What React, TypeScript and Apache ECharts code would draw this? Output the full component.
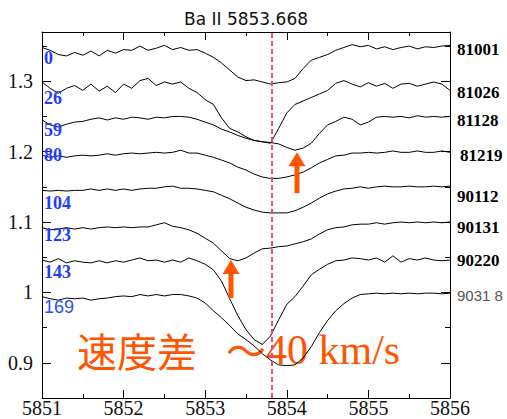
import React, { useEffect, useRef } from 'react';
import * as echarts from 'echarts';

// Wavelength grid (Å)
const WAVELENGTHS = [
  5851.0, 5851.1, 5851.2, 5851.3, 5851.4, 5851.5, 5851.6, 5851.7, 5851.8, 5851.9,
  5852.0, 5852.1, 5852.2, 5852.3, 5852.4, 5852.5, 5852.6, 5852.7, 5852.8, 5852.9,
  5853.0, 5853.1, 5853.2, 5853.3, 5853.4, 5853.5, 5853.6, 5853.7, 5853.8, 5853.9,
  5854.0, 5854.1, 5854.2, 5854.3, 5854.4, 5854.5, 5854.6, 5854.7, 5854.8, 5854.9,
  5855.0, 5855.1, 5855.2, 5855.3, 5855.4, 5855.5, 5855.6, 5855.7, 5855.8, 5855.9,
  5856.0,
];

// Normalised (offset) flux of each spectrum
const S_81001 = [
  1.348, 1.344, 1.338, 1.336, 1.341, 1.337, 1.343, 1.336, 1.344, 1.340,
  1.345, 1.344, 1.350, 1.344, 1.347, 1.351, 1.345, 1.348, 1.344, 1.345,
  1.340, 1.334, 1.326, 1.316, 1.306, 1.301, 1.302, 1.299, 1.296, 1.298,
  1.299, 1.304, 1.318, 1.330, 1.334, 1.338, 1.344, 1.348, 1.352, 1.349,
  1.351, 1.346, 1.349, 1.345, 1.348, 1.350, 1.346, 1.349, 1.348, 1.350,
  1.351,
];
const S_81026 = [
  1.299, 1.290, 1.283, 1.290, 1.294, 1.287, 1.296, 1.286, 1.293, 1.284,
  1.296, 1.290, 1.301, 1.304, 1.294, 1.299, 1.296, 1.299, 1.290, 1.284,
  1.274, 1.267, 1.248, 1.233, 1.228, 1.221, 1.216, 1.214, 1.212, 1.233,
  1.255, 1.267, 1.272, 1.277, 1.282, 1.287, 1.297, 1.301, 1.296, 1.292,
  1.298, 1.293, 1.297, 1.290, 1.296, 1.297, 1.293, 1.296, 1.299, 1.296,
  1.287,
];
const S_81128 = [
  1.245, 1.238, 1.235, 1.239, 1.242, 1.243, 1.246, 1.248, 1.245, 1.248,
  1.246, 1.249, 1.248, 1.246, 1.249, 1.248, 1.250, 1.250, 1.249, 1.246,
  1.242, 1.238, 1.232, 1.228, 1.223, 1.219, 1.216, 1.214, 1.213, 1.211,
  1.206, 1.202, 1.205, 1.212, 1.226, 1.238, 1.243, 1.249, 1.246, 1.238,
  1.242, 1.249, 1.250, 1.249, 1.250, 1.248, 1.251, 1.249, 1.250, 1.249,
  1.250,
];
const S_81219 = [
  1.195, 1.192, 1.194, 1.192, 1.194, 1.195, 1.194, 1.195, 1.197, 1.195,
  1.197, 1.198, 1.197, 1.198, 1.199, 1.198, 1.199, 1.202, 1.198, 1.198,
  1.195, 1.192, 1.188, 1.184, 1.178, 1.174, 1.168, 1.164, 1.162, 1.162,
  1.164, 1.167, 1.171, 1.177, 1.184, 1.189, 1.194, 1.195, 1.198, 1.198,
  1.199, 1.198, 1.199, 1.201, 1.199, 1.199, 1.201, 1.199, 1.199, 1.201,
  1.199,
];
const S_90112 = [
  1.145, 1.144, 1.145, 1.144, 1.145, 1.145, 1.147, 1.145, 1.147, 1.145,
  1.147, 1.145, 1.147, 1.148, 1.148, 1.150, 1.151, 1.148, 1.148, 1.147,
  1.145, 1.143, 1.138, 1.133, 1.127, 1.121, 1.117, 1.114, 1.113, 1.113,
  1.113, 1.116, 1.121, 1.127, 1.134, 1.140, 1.144, 1.147, 1.148, 1.150,
  1.148, 1.150, 1.151, 1.150, 1.150, 1.151, 1.150, 1.150, 1.151, 1.150,
  1.151,
];
const S_90131 = [
  1.092, 1.089, 1.090, 1.092, 1.090, 1.092, 1.090, 1.092, 1.093, 1.092,
  1.093, 1.092, 1.093, 1.093, 1.096, 1.099, 1.094, 1.092, 1.089, 1.084,
  1.077, 1.070, 1.059, 1.048, 1.045, 1.049, 1.056, 1.062, 1.063, 1.065,
  1.066, 1.069, 1.072, 1.076, 1.083, 1.089, 1.092, 1.093, 1.096, 1.097,
  1.097, 1.099, 1.097, 1.099, 1.100, 1.099, 1.100, 1.099, 1.100, 1.099,
  1.100,
];
const S_90220 = [
  1.046, 1.043, 1.048, 1.042, 1.045, 1.043, 1.042, 1.045, 1.042, 1.045,
  1.043, 1.046, 1.049, 1.045, 1.046, 1.043, 1.046, 1.043, 1.049, 1.045,
  1.040, 1.032, 1.016, 0.991, 0.967, 0.947, 0.933, 0.926, 0.938, 0.961,
  0.983, 0.994, 1.009, 1.025, 1.033, 1.040, 1.045, 1.046, 1.049, 1.048,
  1.046, 1.049, 1.043, 1.052, 1.043, 1.048, 1.046, 1.049, 1.046, 1.045,
  1.046,
];
const S_90318 = [
  0.994, 0.991, 0.989, 0.992, 0.991, 0.992, 0.989, 0.991, 0.992, 0.994,
  0.995, 0.994, 0.997, 0.995, 0.997, 0.995, 0.997, 0.997, 0.995, 0.992,
  0.985, 0.974, 0.964, 0.953, 0.941, 0.933, 0.924, 0.913, 0.904, 0.897,
  0.896, 0.897, 0.907, 0.923, 0.943, 0.960, 0.974, 0.984, 0.992, 0.997,
  0.998, 0.999, 0.998, 0.999, 0.998, 0.999, 0.998, 0.999, 0.999, 0.998,
  0.999,
];

const SPECTRA = [S_81001, S_81026, S_81128, S_81219, S_90112, S_90131, S_90220, S_90318];
const DATE_LABELS = ['81001', '81026', '81128', '81219', '90112', '90131', '90220', '9031 8'];
const DAY_LABELS = ['0', '26', '59', '80', '104', '123', '143', '169'];

const TITLE = 'Ba II 5853.668';
const REST_WAVELENGTH = 5853.82;
const X_MIN = 5851;
const X_MAX = 5856;
const Y_MIN = 0.85;
const Y_MAX = 1.37;
const Y_MAJOR = [0.9, 1.0, 1.1, 1.2, 1.3];
const Y_MINOR = [0.85, 0.95, 1.05, 1.15, 1.25, 1.35];

// Arrow annotations (wavelength, tip flux, tail flux)
const ARROWS = [
  { wl: 5854.125, tip: 1.199, tail: 1.141 },
  { wl: 5853.316, tip: 1.046, tail: 0.992 },
];

// layout of the text annotations (pixels)
const DAY_LABEL_Y = [58, 98, 130, 155, 203, 235, 272, 307];
const DATE_LABEL_Y = [49, 92, 120, 155, 196, 227, 260, 295];

const ORANGE = '#ff5500';
const BLUE = '#1f3cff';
const SERIF = "'Liberation Serif', 'Times New Roman', Times, serif";

export default function App() {
  const ref = useRef<HTMLDivElement>(null);
  useEffect(() => {
    if (!ref.current) return;
    const chart = echarts.init(ref.current, null, { renderer: 'svg' });

    const series: any[] = SPECTRA.map((vals, i) => ({
      type: 'line',
      name: DATE_LABELS[i],
      data: WAVELENGTHS.map((w, j) => [w, vals[j]]),
      showSymbol: false,
      symbol: 'none',
      silent: true,
      lineStyle: { color: '#000', width: 1 },
      z: 3,
    }));
    series[0].markLine = {
      silent: true,
      symbol: 'none',
      label: { show: false },
      lineStyle: { color: '#f23d9a', type: [5, 3], width: 2 },
      data: [{ xAxis: REST_WAVELENGTH }],
      z: 4,
    };

    const xBase = {
      type: 'value',
      min: X_MIN,
      max: X_MAX,
      interval: 1,
      splitLine: { show: false },
      axisLine: { show: true, onZero: false, lineStyle: { color: '#000', width: 1 } },
      axisTick: { show: true, inside: true, length: 8, lineStyle: { color: '#000' } },
      minorTick: { show: true, splitNumber: 2, length: 4, lineStyle: { color: '#000' } },
    };
    const yMajorBase = {
      type: 'value',
      min: Y_MIN,
      max: Y_MAX,
      splitLine: { show: false },
      axisLine: { show: true, onZero: false, lineStyle: { color: '#000', width: 1 } },
      axisTick: { show: true, inside: true, length: 9, customValues: Y_MAJOR, lineStyle: { color: '#000' } },
    };
    const yMinorBase = {
      type: 'value',
      min: Y_MIN,
      max: Y_MAX,
      splitLine: { show: false },
      axisLine: { show: false },
      axisLabel: { show: false },
      axisTick: { show: true, inside: true, length: 5, customValues: Y_MINOR, lineStyle: { color: '#000' } },
    };

    chart.setOption({
      animation: false,
      backgroundColor: '#fff',
      grid: { left: 42, right: 57, top: 32, bottom: 21, containLabel: false, outerBoundsMode: 'none' },
      xAxis: [
        {
          ...xBase,
          position: 'bottom',
          axisLabel: {
            show: true,
            margin: 0,
            fontSize: 20,
            lineHeight: 20,
            fontFamily: SERIF,
            color: '#111',
            alignMinLabel: 'center',
            alignMaxLabel: 'center',
            hideOverlap: false,
            formatter: (v: number) => String(v),
          },
        },
        { ...xBase, position: 'top', axisLabel: { show: false } },
      ],
      yAxis: [
        {
          ...yMajorBase,
          position: 'left',
          axisLabel: {
            show: true,
            customValues: Y_MAJOR,
            margin: 9,
            fontSize: 20,
            fontFamily: SERIF,
            color: '#111',
            formatter: (v: number) => String(v),
          },
        },
        { ...yMinorBase, position: 'left' },
        { ...yMajorBase, position: 'right', axisLabel: { show: false } },
        { ...yMinorBase, position: 'right' },
      ],
      series,
    });

    const graphics: any[] = [];
    graphics.push({
      type: 'text',
      x: 246,
      y: 19,
      style: { text: TITLE, font: "17px 'DejaVu Sans'", fill: '#111', align: 'center', verticalAlign: 'middle' },
    });
    DAY_LABELS.forEach((t, i) => {
      const last = i === DAY_LABELS.length - 1;
      graphics.push({
        type: 'text',
        x: 44,
        y: DAY_LABEL_Y[i],
        z: 10,
        style: {
          text: t,
          font: last ? "18px 'Liberation Sans', Arial, sans-serif" : 'bold 18px ' + SERIF,
          fill: last ? '#2a4dff' : BLUE,
          verticalAlign: 'middle',
        },
      });
    });
    DATE_LABELS.forEach((t, i) => {
      const last = i === DATE_LABELS.length - 1;
      graphics.push({
        type: 'text',
        x: i === 3 ? 460 : 457,
        y: DATE_LABEL_Y[i],
        style: {
          text: t,
          font: last ? "15px 'Liberation Sans', Arial, sans-serif" : 'bold 17px ' + SERIF,
          fill: last ? '#555' : '#000',
          verticalAlign: 'middle',
        },
      });
    });
    graphics.push({
      type: 'text',
      x: 77,
      y: 350,
      z: 1,
      style: { text: '速度差', font: "40px 'Noto Sans CJK JP'", fill: ORANGE, verticalAlign: 'middle' },
    });
    graphics.push({
      type: 'text',
      x: 226,
      y: 349,
      z: 1,
      style: { text: '～', font: "40px 'Noto Sans CJK JP'", fill: ORANGE, verticalAlign: 'middle' },
    });
    graphics.push({
      type: 'text',
      x: 266,
      y: 350,
      z: 1,
      style: { text: '40 km/s', font: '42px ' + SERIF, fill: ORANGE, verticalAlign: 'middle' },
    });

    ARROWS.forEach((a) => {
      const tip = chart.convertToPixel({ seriesIndex: 0 }, [a.wl, a.tip]) as number[];
      const tail = chart.convertToPixel({ seriesIndex: 0 }, [a.wl, a.tail]) as number[];
      const headH = 14;
      const halfW = 8.5;
      graphics.push({
        type: 'rect',
        z: 20,
        shape: { x: tip[0] - 2.5, y: tip[1] + headH - 1, width: 5, height: tail[1] - tip[1] - headH + 1 },
        style: { fill: ORANGE },
      });
      graphics.push({
        type: 'polygon',
        z: 20,
        shape: {
          points: [
            [tip[0], tip[1]],
            [tip[0] - halfW, tip[1] + headH],
            [tip[0] + halfW, tip[1] + headH],
          ],
        },
        style: { fill: ORANGE },
      });
    });

    chart.setOption({ graphic: graphics });

    return () => chart.dispose();
  }, []);

  return (
    <div
      ref={ref}
      style={{ position: 'fixed', left: 0, top: 0, width: 507, height: 419, background: '#fff' }}
    />
  );
}
